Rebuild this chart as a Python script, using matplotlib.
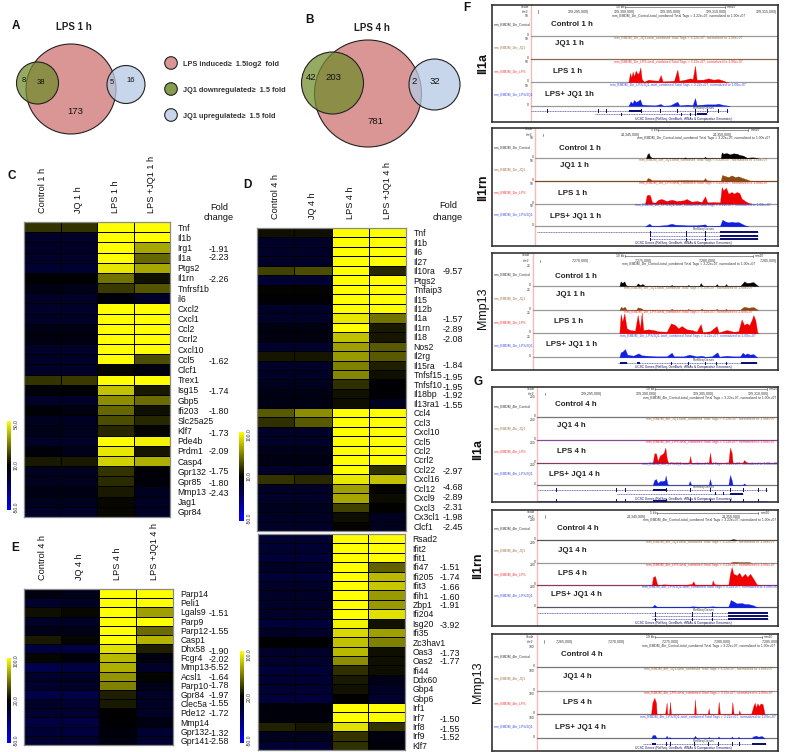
import matplotlib
matplotlib.use("Agg")
import matplotlib.pyplot as plt
from matplotlib.colors import LinearSegmentedColormap
from matplotlib.patches import Circle, Rectangle
import numpy as np
import logging
logging.getLogger("matplotlib.font_manager").setLevel(logging.ERROR)

W, H = 787, 752
SANS = ["Liberation Sans", "DejaVu Sans"]
NARROW = ["Liberation Sans Narrow", "Liberation Sans"]
plt.rcParams["font.family"] = SANS

# ---------- heat-map data: signed colour-scale position (-1 blue, 0 black, 1 yellow)
genes_c = ["Tnf","Il1b","Irg1","Il1a","Ptgs2","Il1rn","Tnfrsf1b","il6","Cxcl2","Cxcl1","Ccl2","Ccrl2","Cxcl10","Ccl5","Clcf1","Trex1","Isg15","Gbp5","Ifi203","Slc25a25","Klf7","Pde4b","Prdm1","Casp4","Gpr132","Gpr85","Mmp13","Jag1","Gpr84"]
values_c = [[.2,.2,1,1],[-.2,-.2,1,1],[-.2,-.2,1,.65],[-.2,-.2,1,.4],[-.25,-.25,.9,.65],[-.02,-.02,.45,.07],[-.1,-.12,.22,.33],[-.2,-.2,-.05,-.2],[-.2,-.2,1,1],[-.2,-.2,1,1],[-.1,-.1,1,1],[-.08,-.08,1,1],[-.2,-.2,1,1],[-.2,-.2,1,.3],[-.2,-.2,.03,-.08],[.2,.22,1,1],[-.05,-.02,.75,.1],[-.2,-.2,.55,.42],[-.04,-.08,.4,.06],[-.15,-.18,.3,.15],[-.12,-.15,.15,.02],[-.2,-.2,1,.95],[-.05,-.12,.9,.08],[.1,.1,.82,.68],[-.15,-.15,.2,-.03],[-.15,-.15,.17,-.05],[-.1,-.1,.1,-.15],[-.15,-.15,.03,-.18],[-.2,-.2,.03,-.18]]
genes_d1 = ["Tnf","Il1b","Il6","Il27","Il10ra","Ptgs2","Tnfaip3","Il15","Il12b","Il1a","Il1rn","Il18","Nos2","Il2rg","Il15ra","Tnfsf15","Tnfsf10","Il18bp","Il13ra1","Ccl4","Ccl3","Cxcl10","Ccl5","Ccl2","Ccrl2","Ccl22","Cxcl16","Ccl12","Cxcl9","Cxcl3","Cx3cl1","Clcf1"]
values_d1 = [[.06,.06,1,1],[-.2,-.2,1,1],[-.2,-.2,1,1],[-.2,-.2,1,1],[.25,.3,1,.15],[-.25,-.25,1,1],[.01,.01,1,1],[-.03,-.03,1,1],[-.2,-.2,1,1],[-.2,-.2,.9,.45],[-.08,-.08,1,.1],[-.08,-.08,.75,.08],[-.22,-.22,.62,.35],[.08,.08,.6,.35],[-.2,-.2,.5,.12],[-.2,-.2,.52,.06],[-.15,-.15,.18,-.02],[-.1,-.1,.07,-.03],[-.1,-.1,.05,-.15],[.35,.55,1,1],[.18,.35,1,1],[-.2,-.2,1,1],[-.2,-.2,1,1],[-.12,-.12,1,1],[-.1,-.1,1,1],[-.2,-.2,1,.18],[.2,.15,.9,.75],[-.2,-.2,.62,.01],[-.2,-.2,.65,.04],[-.15,-.15,.25,0],[-.18,-.18,.05,-.15],[-.2,-.2,.01,-.15]]
genes_d2 = ["Rsad2","Ifit2","Ifit1","Ifi47","Ifi205","Ifit3","Ifih1","Zbp1","Ifi204","Isg20","Ifi35","Zc3hav1","Oas3","Oas2","Ifi44","Ddx60","Gbp4","Gbp6","Irf1","Irf7","Irf8","Irf9","Klf7"]
values_d2 = [[-.25,-.25,1,1],[-.25,-.25,1,1],[-.28,-.28,1,1],[-.18,-.2,1,.38],[-.28,-.28,1,.72],[-.2,-.2,1,.78],[-.2,-.2,1,.6],[-.2,-.2,1,.6],[-.2,-.2,1,.88],[-.28,-.28,.95,.07],[-.18,-.2,.85,.62],[-.01,-.01,.75,.5],[-.2,-.2,.72,.06],[-.22,-.22,.55,.06],[-.28,-.28,.18,.05],[-.25,-.25,.1,-.12],[-.25,-.25,.07,-.18],[-.3,-.3,0,-.25],[-.05,-.05,1,1],[-.06,-.06,1,.98],[.13,.08,.88,.2],[-.15,-.15,.2,-.08],[-.25,-.25,.18,-.04]]
genes_e = ["Parp14","Peli1","Lgals9","Parp9","Parp12","Casp1","Dhx58","Fcgr4","Mmp13","Acsl1","Parp10","Gpr84","Clec5a","Pde12","Mmp14","Gpr132","Gpr141"]
values_e = [[-.08,-.14,1,1],[-.22,-.18,1,1],[.06,.03,1,.62],[-.2,-.18,1,1],[-.12,-.12,1,.42],[.1,.02,1,.7],[-.3,-.32,.88,.12],[.02,-.05,.72,-.08],[-.35,-.32,.68,-.2],[-.22,-.2,.58,.01],[-.22,-.2,.5,-.12],[-.35,-.35,.12,-.2],[-.2,-.25,.1,-.18],[-.25,-.25,0,-.2],[-.32,-.32,-.02,-.1],[-.28,-.3,-.06,-.25],[-.25,-.25,-.08,-.25]]
columns_1h = ["Control 1 h","JQ 1 h","LPS 1 h","LPS +JQ1 1 h"]
columns_4h = ["Control 4 h","JQ 4 h","LPS 4 h","LPS +JQ1 4 h"]

fold_c = ["-1.91","-2.23","-2.26","-1.62","-1.74","-1.80","-1.73","-2.09","-1.75","-1.80","-2.43"]
fold_c_y = [249,257,279,362,392,412,433,452,471,484,494]
fold_d1 = ["-9.57","-1.57","-2.89","-2.08","-1.84","-1.95","-1.95","-1.92","-1.55","-2.97","-4.68","-2.89","-2.31","-1.98","-2.45"]
fold_d1_y = [272,319,330,339,366,377,387,396,405,471,488,498,508,518,527]
fold_d2 = ["-1.51","-1.74","-1.66","-1.60","-1.91","-3.92","-1.73","-1.77","-1.50","-1.55","-1.52"]
fold_d2_y = [567,578,588,597,606,625,653,661,719,729,738]
fold_e = ["-1.51","-1.55","-1.90","-2.02","-5.52","-1.64","-1.78","-1.97","-1.55","-1.72","-1.32","-2.58"]
fold_e_y = [613,631,652,660,668,677,685,695,704,713,733,742]

# ---------- Venn data
venn_a_counts = ["8","38","173","5","16"]
venn_b_counts = ["42","203","781","2","32"]
legend_labels = ["LPS induced\u2265  1.5log2  fold","JQ1 downregulated\u2265  1.5 fold","JQ1 upregulated\u2265  1.5 fold"]

# ---------- browser-track signal: (position, height)
F1_LPS = [(475,0),(480,28),(484,15),(488,32),(492,18),(497,35),(503,25),(507,30),(511,45),(515,10),(522,2),(535,8),(550,6),(565,5),(572,22),(578,3),(600,4),(612,5),(622,38),(628,5),(645,8),(660,12),(668,10),(675,50),(680,8),(700,8),(715,12),(730,8),(745,10),(760,5),(770,1),(775,0)]
F1_MIX = [(475,0),(482,14),(487,8),(492,18),(498,12),(505,16),(510,20),(516,4),(530,3),(555,2),(572,6),(580,1),(600,2),(622,13),(628,2),(650,4),(668,3),(675,24),(680,3),(710,5),(735,5),(745,7),(760,3),(775,1),(780,0)]
F2_CTL = [(528,0),(532,12),(536,16),(540,6),(545,2),(560,0),(640,0),(645,3),(650,0),(700,0),(705,5),(710,0),(752,0),(755,18),(760,14),(770,16),(780,12),(790,15),(800,14),(810,10),(820,8),(830,2),(850,3),(860,1),(865,0)]
F2_JQ1 = [(528,0),(533,9),(540,7),(545,2),(570,2),(600,2),(648,3),(700,2),(705,9),(710,2),(752,0),(756,18),(765,15),(775,12),(785,17),(795,12),(805,14),(815,10),(830,5),(840,1),(845,0)]
F2_LPS = [(525,0),(530,25),(535,27),(540,25),(546,5),(555,3),(565,12),(575,14),(590,8),(605,12),(620,8),(640,10),(650,14),(665,6),(680,8),(695,5),(705,22),(712,4),(730,5),(750,4),(755,50),(760,40),(768,48),(775,30),(785,35),(792,30),(800,35),(808,32),(815,15),(830,5),(840,1),(845,0)]
F2_MIX = [(525,0),(530,3),(538,8),(545,2),(565,2),(590,4),(605,8),(615,5),(640,4),(650,3),(680,3),(705,6),(712,1),(750,2),(757,20),(765,15),(775,12),(785,14),(795,12),(805,13),(815,8),(825,3),(835,0)]
F3_CTL = [(448,0),(452,14),(457,9),(463,14),(468,2),(475,0),(498,0),(503,8),(510,3),(518,6),(525,0),(600,0),(605,3),(610,0),(650,0),(655,3),(660,0),(688,0),(692,9),(697,2),(702,0),(736,0),(740,6),(745,0),(764,0),(768,6),(772,0),(810,0),(815,5),(823,14),(830,9),(840,10),(850,12),(858,5),(865,0)]
F3_JQ1 = [(448,0),(453,10),(458,6),(464,10),(470,1),(498,0),(503,8),(512,6),(520,1),(600,0),(605,4),(610,0),(650,0),(655,3),(660,0),(690,0),(695,4),(700,0),(736,0),(740,4),(745,0),(764,0),(768,4),(772,0),(810,0),(815,5),(822,10),(835,7),(850,9),(860,3),(864,0)]
F3_LPS = [(448,0),(452,58),(457,35),(463,60),(470,15),(480,10),(495,8),(503,55),(510,15),(515,62),(520,10),(535,12),(550,10),(565,6),(590,5),(603,30),(615,25),(625,15),(635,22),(650,12),(665,10),(680,5),(692,28),(698,4),(720,6),(740,22),(746,3),(770,10),(790,5),(805,6),(815,42),(822,25),(830,30),(838,25),(845,40),(850,55),(856,40),(862,3),(866,0)]
F3_MIX = [(448,0),(452,15),(458,18),(465,25),(472,8),(490,5),(505,12),(515,6),(530,5),(560,3),(590,3),(605,14),(612,3),(640,3),(658,8),(680,3),(695,5),(705,2),(725,3),(742,15),(748,2),(770,5),(790,3),(810,3),(818,14),(825,8),(832,12),(840,8),(850,10),(858,3),(862,0)]
G1_LPS = [(548,0),(553,28),(558,28),(563,5),(570,22),(576,25),(581,30),(586,45),(590,15),(594,0),(657,0),(660,20),(664,0),(716,0),(720,30),(724,0),(775,0),(780,45),(785,30),(788,0),(818,0),(822,8),(828,2),(834,0)]
G1_MIX = [(548,0),(553,15),(558,18),(563,6),(570,12),(578,12),(584,14),(587,28),(592,4),(596,0),(655,0),(659,12),(664,0),(716,0),(720,18),(724,0),(775,0),(780,30),(785,15),(788,0),(818,0),(822,5),(828,0)]
G2_CTL = [(780,0),(790,3),(800,0)]
G2_JQ1 = [(780,0),(790,3),(810,2),(835,2),(845,0)]
G2_LPS = [(545,0),(549,25),(555,28),(560,8),(563,0),(580,3),(600,2),(620,2),(650,2),(665,4),(670,12),(675,2),(700,2),(725,0),(728,15),(733,3),(750,2),(775,2),(780,35),(785,55),(790,35),(800,30),(808,38),(815,25),(825,35),(832,25),(840,35),(850,20),(860,3),(870,0)]
G2_MIX = [(545,0),(553,8),(560,2),(590,1),(620,2),(645,1),(668,3),(700,1),(728,3),(750,1),(775,2),(782,22),(790,18),(800,12),(815,13),(825,10),(835,10),(850,6),(860,1),(865,0)]
G3_LPS = [(543,0),(547,35),(553,50),(558,35),(560,0),(585,0),(590,35),(592,0),(597,0),(600,38),(603,0),(672,0),(675,45),(678,0),(713,0),(716,18),(719,0),(743,0),(746,38),(750,0),(784,0),(787,37),(791,0),(805,0),(808,12),(811,0),(843,0),(850,25),(854,35),(858,20),(862,33),(867,25),(872,33),(878,30),(884,0)]
G3_MIX = [(543,0),(548,10),(555,10),(560,0),(585,0),(590,8),(594,0),(598,4),(604,0),(670,0),(675,8),(680,0),(714,0),(716,5),(720,0),(743,0),(745,6),(750,0),(783,0),(785,6),(790,0),(803,0),(805,5),(810,0),(843,0),(850,6),(858,8),(865,5),(875,7),(885,0)]
EMPTY = []

# gene models: (row, start, end, [thin exons], [thick exons])
F1_GENES = [(333,183,775,[232,385,408,515,572,622,675,712,745,772],[(478,512)]),(343,375,712,[455,635,660,675],[(680,712)])]
F2_GENES = [(322,200,865,[540,648,705],[(750,865)]),(332,540,865,[540,648,705],[(750,865)]),(343,540,865,[540,648,705],[(750,865)])]
F3_GENES = [(340,445,862,[605,655,705,740,768],[(450,470),(500,510),(812,862)])]
G1_GENES = [(345,205,890,[260,440,465,590,660,720,780,820,865,890],[(548,590)]),(356,440,820,[735,760],[(780,820)]),(377,205,890,[260,440,465,590,660,720,780,820,865],[(548,590)])]
G2_GENES = [(340,205,895,[555,668,728],[(775,895)]),(347,545,895,[555,668,728],[(775,895)]),(358,545,895,[555,668,728],[(775,895)])]
G3_GENES = [(372,520,888,[590,600,672,715,745,788,808],[(545,558),(845,888)])]

# browser ruler text
F1_COORDS = ["129,295,000|","129,300,000|","129,305,000|","129,310,000|","129,315,000|"]
F2_COORDS = ["24,345,000|","24,350,000|"]
F3_COORDS = ["7,270,000|","7,275,000|","7,280,000|","7,285,000|"]
G1_COORDS = ["129,295,000|","129,300,000|","129,305,000|","129,310,000|"]
G2_COORDS = ["24,345,000|","24,350,000|"]
G3_COORDS = ["7,265,000|","7,270,000|","7,275,000|","7,280,000|","7,285,000|"]

conds_1h = ["Control 1 h","JQ1 1 h","LPS 1 h","LPS+ JQ1 1 h"]
conds_f1 = ["Control 1 h","JQ1 1 h","LPS 1 h","LPS+ JQ1 1h"]
conds_4h = ["Control 4 h","JQ1 4 h","LPS 4 h","LPS+ JQ1 4 h"]
track_colors = ["black","#8a4b14","#f00000","#1020e0"]

fig = plt.figure(figsize=(W/100, H/100), dpi=100, facecolor="white")

def ax_px(x0, y0, x1, y1, **kw):
    return fig.add_axes([x0/W, 1-y1/H, (x1-x0)/W, (y1-y0)/H], **kw)

ov = ax_px(0, 0, W, H, zorder=5)
ov.set_xlim(0, W); ov.set_ylim(H, 0); ov.axis("off"); ov.patch.set_alpha(0)

cmap = LinearSegmentedColormap.from_list("byk", [(0, "#0000ff"), (.35, (0, 0, .24)), (.5, "#000000"), (1, "#ffff00")])

def heat(x0, y0, x1, y1, genes, values, cols, gene_pad=5.5, col_pad=6.5):
    ax = ax_px(x0, y0, x1, y1)
    arr = np.array(values, float)
    ax.pcolormesh(np.arange(5), np.arange(len(genes)+1), arr, cmap=cmap, vmin=-1, vmax=1,
                  edgecolors="black", linewidth=0.6)
    ax.set_ylim(len(genes), 0); ax.set_xlim(0, 4)
    ax.set_yticks(np.arange(len(genes))+.5, genes, fontsize=6.2, family=NARROW, color="#111111")
    ax.yaxis.tick_right()
    ax.set_xticks(np.arange(4)+.5, cols, rotation=90, fontsize=6.6, color="#111111")
    ax.xaxis.tick_top()
    ax.tick_params(length=0)
    ax.tick_params(axis="y", pad=gene_pad)
    ax.tick_params(axis="x", pad=col_pad)
    for s in ax.spines.values():
        s.set_color("#8a8a8a"); s.set_linewidth(0.9)
    return ax

heat(24, 222, 170, 517, genes_c, values_c, columns_1h)
heat(257, 228, 406, 531, genes_d1, values_d1, columns_4h)
d2 = heat(258, 534, 405, 750, genes_d2, values_d2, columns_4h)
d2.set_xticks([])
heat(24, 589, 173, 745, genes_e, values_e, columns_4h)

def cbar(x0, y0, x1, y1, labels):
    ax = ax_px(x0, y0, x1, y1)
    g = np.linspace(1, -1, 256).reshape(-1, 1)
    ax.imshow(g, cmap=cmap, vmin=-1, vmax=1, aspect="auto", extent=(0, 1, -1, 1))
    ax.set_xticks([])
    ax.set_yticks([-.93, 0, .93], labels, rotation=90, va="center", fontsize=3.6, color="#333333")
    ax.yaxis.tick_right()
    ax.tick_params(length=0, pad=2)
    for s in ax.spines.values():
        s.set_visible(False)

cbar(7, 421, 11, 510, ["-50.0", "10.0", "50.0"])
cbar(239, 432, 244, 521, ["-50.0", "10.0", "100.0"])
cbar(240, 651, 244, 743, ["-50.0", "20.0", "100.0"])
cbar(7, 658, 11, 743, ["-50.0", "20.0", "100.0"])

for labs, ys, x in [(fold_c, fold_c_y, 209), (fold_d1, fold_d1_y, 443), (fold_d2, fold_d2_y, 440), (fold_e, fold_e_y, 209)]:
    for t, y in zip(labs, ys):
        ov.text(x, y, t, fontsize=6.4, va="center", ha="left", color="#111111")
for x, y1, y2 in [(219, 207, 217), (448, 206, 217)]:
    ov.text(x, y1, "Fold", fontsize=6.6, ha="center", va="center", color="#111111")
    ov.text(x, y2, "change", fontsize=6.6, ha="center", va="center", color="#111111")

# panel letters
for t, x, y in [("A",16,26),("B",310,20),("C",12,176),("D",247,185),("E",15,548),("F",467,8),("G",478,382)]:
    ov.text(x, y, t, fontsize=8.5, fontweight="bold", ha="center", va="center", color="#111111")

# Venn diagrams
RED, GREEN, BLUE = "#d99694", "#718c2e", "#b5c9e4"
def circ(x, y, r, c, a=1.0):
    ov.add_patch(Circle((x, y), r, facecolor=matplotlib.colors.to_rgba(c, a), edgecolor="#222222", linewidth=0.8))

circ(71, 89, 45, RED); circ(37.5, 83, 21, GREEN, .74); circ(126, 84.5, 19, BLUE, .75)
circ(368, 93.5, 53.5, RED); circ(332.5, 83, 31, GREEN, .74); circ(434.5, 84.5, 25.5, BLUE, .75)
ov.text(74, 27, "LPS 1 h", fontsize=7, fontweight="bold", ha="center", va="center", color="#222222")
ov.text(372, 28, "LPS 4 h", fontsize=7, fontweight="bold", ha="center", va="center", color="#222222")
for t, (x, y), fs in zip(venn_a_counts, [(24,81),(41,82),(75,112),(112,82),(131,80)], [5.5,5.5,6.8,5.5,5.5]):
    ov.text(x, y, t, fontsize=fs, ha="center", va="center", color="#111111")
for t, (x, y) in zip(venn_b_counts, [(311,78),(333,78),(375,122),(414,82),(435,82)]):
    ov.text(x, y, t, fontsize=6.8, ha="center", va="center", color="#111111")
for (y, c, a), t in zip([(63,RED,1),(89,GREEN,.85),(115,BLUE,.75)], legend_labels):
    circ(171, y, 6.3, c, a)
    ov.text(183, y+1, t, fontsize=5.3, fontweight="bold", va="center", ha="left", color="#333333")

# browser panels; coordinates of each panel are browser positions
def panel(y0, ytop, ybot, pink, bases, base_cols, conds, cond_pos, gene_name, name_x, name_y, weight,
          tracks, genes, tag, ruler, coords, coord_x, coord_y, cap_x, cap_ys, scale):
    xl, xr = 67, 925
    ax = ax_px(470+xl/3, y0+ytop/3, 470+xr/3, y0+ybot/3)
    ax.set_xlim(xl, xr); ax.set_ylim(ybot, ytop)
    ax.set_xticks([]); ax.set_yticks([])
    for s in ax.spines.values():
        s.set_color("#333333"); s.set_linewidth(1.2)
    ax.axvline(pink, color="#ffb8b8", lw=1.0, zorder=1)
    names = ["Control", "JQ1", "LPS", "LPS/JQ1"]
    for i, (b, sig) in enumerate(zip(bases, tracks)):
        ax.plot([pink, xr], [b, b], color=base_cols[i], lw=0.9, zorder=2)
        if sig:
            xs = [p[0] for p in sig]; hs = [p[1] for p in sig]
            ax.fill_between(xs, b, [b-h for h in hs], color=track_colors[i], lw=0.2, zorder=3)
        ax.text(cap_x, cap_ys[i], f"mm_BMDM_{tag}_{names[i]}-total_combined Total Tags = 3.22e+07, normalized to 1.00e+07",
                fontsize=2.4, color=track_colors[i], ha="center", va="center", alpha=.8)
        ax.text(72, b-34, f"mm_BMDM_{tag}_{names[i]}", fontsize=2.4, color=track_colors[i], ha="left", va="center", alpha=.8)
        ax.text(pink-6, b-3, "0", fontsize=2.4, color="#333333", ha="right", va="center")
        ax.text(pink-6, b-60, scale, fontsize=2.4, color="#333333", ha="right", va="center")
    for (cx, cy), t in zip(cond_pos, conds):
        ax.text(cx, cy, t, fontsize=5.7, fontweight="bold", ha="center", va="center", color="#222222")
    # ruler
    ry, rx0, rx1, rtext = ruler
    ax.plot([rx0, rx1], [ry, ry], color="#444444", lw=0.4)
    ax.plot([rx0, rx0], [ry-3, ry+3], color="#444444", lw=0.4)
    ax.plot([rx1, rx1], [ry-3, ry+3], color="#444444", lw=0.4)
    ax.text(rx0-2, ry, rtext, fontsize=2.4, color="#333333", ha="right", va="center")
    ax.text(rx1+6, ry, "mm10", fontsize=2.4, color="#333333", ha="left", va="center")
    for t, cx in zip(coords, coord_x):
        ax.text(cx, coord_y, t, fontsize=2.6, color="#333333", ha="center", va="center")
    ax.text(pink-6, ry-2, "Scale", fontsize=2.4, color="#333333", ha="right", va="center")
    ax.text(pink-6, coord_y, "chr2:", fontsize=2.4, color="#333333", ha="right", va="center")
    ax.plot([pink+22, pink+22], [coord_y-4, coord_y+4], color="#444444", lw=0.4)
    for y, a, b, thin, thick in genes:
        ax.plot([a, b], [y, y], color="#1a1a80", lw=0.4, ls=(0, (2, 1)), zorder=3)
        for e in thin:
            ax.add_patch(Rectangle((e-1, y-5), 3, 10, color="#101070", lw=0, zorder=4))
        for s, e in thick:
            ax.add_patch(Rectangle((s, y-3), e-s, 6, color="#101070", lw=0, zorder=4))
    ax.text(700, genes[0][0]-9, "RefSeq Genes", fontsize=2.3, color="#333333", ha="center", va="center")
    ax.text(640, ybot-9, "UCSC Genes (RefSeq, GenBank, tRNAs & Comparative Genomics)", fontsize=2.3, color="#111166", ha="center", va="center")
    ov.text(name_x, name_y, gene_name, fontsize=9, fontweight=weight, rotation=90, ha="center", va="center", color="#111111")

GR, BR, PU = "#999999", "#8a6a50", "#8a4a98"
panel(0, 15, 365, 183, [108,178,247,318], [GR,BR,GR,GR], conds_f1, [(305,73),(297,130),(292,214),(297,283)], "Il1a", 483, 63, "bold",
      [EMPTY,EMPTY,F1_LPS,F1_MIX], F1_GENES, "1hr", (22,465,765,"10 kb"), F1_COORDS, [325,463,600,738,890], 35, 625, [47,115,186,255], "50")
panel(125, 8, 362, 196, [100,168,236,304], [GR,"#7a4a20",GR,GR], conds_1h, [(330,69),(313,122),(308,205),(318,275)], "Il1rn", 483, 188, "bold",
      [F2_CTL,F2_JQ1,F2_LPS,F2_MIX], F2_GENES, "1hr", (15,565,835,"5 kb"), F2_COORDS, [480,757], 30, 700, [38,105,173,240], "50")
panel(250, 10, 360, 188, [108,180,250,322], [GR,GR,GR,GR], conds_1h, [(318,80),(300,132),(296,215),(305,285)], "Mmp13", 483, 308, "normal",
      [F3_CTL,F3_JQ1,F3_LPS,F3_MIX], F3_GENES, "1hr", (18,465,848,"10 kb"), F3_COORDS, [330,520,712,895], 33, 655, [43,115,187,258], "25")
panel(375, 35, 382, 202, [127,195,263,330], ["#777777",PU,"#8a3a60","#777777"], conds_4h, [(316,89),(305,152),(304,230),(312,300)], "Il1a", 478, 450, "bold",
      [EMPTY,EMPTY,G1_LPS,G1_MIX], G1_GENES, "4hr", (43,555,890,"10 kb"), G1_COORDS, [365,530,700,865], 57, 720, [68,133,202,268], "250")
panel(500, 30, 378, 202, [120,188,256,322], ["#555555",GR,"#8a3a60","#556"], conds_4h, [(322,87),(308,150),(308,220),(318,285)], "Il1rn", 478, 566, "bold",
      [G2_CTL,G2_JQ1,G2_LPS,G2_MIX], G2_GENES, "4hr", (38,560,865,"5 kb"), G2_COORDS, [498,783], 50, 720, [60,127,195,262], "200")
panel(620, 42, 392, 200, [142,212,283,355], ["#777777","#999999","#777777","#777777"], conds_4h, [(334,105),(322,170),(322,246),(330,322)], "Mmp13", 478, 682, "normal",
      [EMPTY,EMPTY,G3_LPS,G3_MIX], G3_GENES, "4hr", (52,555,875,"10 kb"), G3_COORDS, [283,440,600,758,900], 65, 715, [77,148,218,290], "100")

fig.savefig("out.png", dpi=100)
